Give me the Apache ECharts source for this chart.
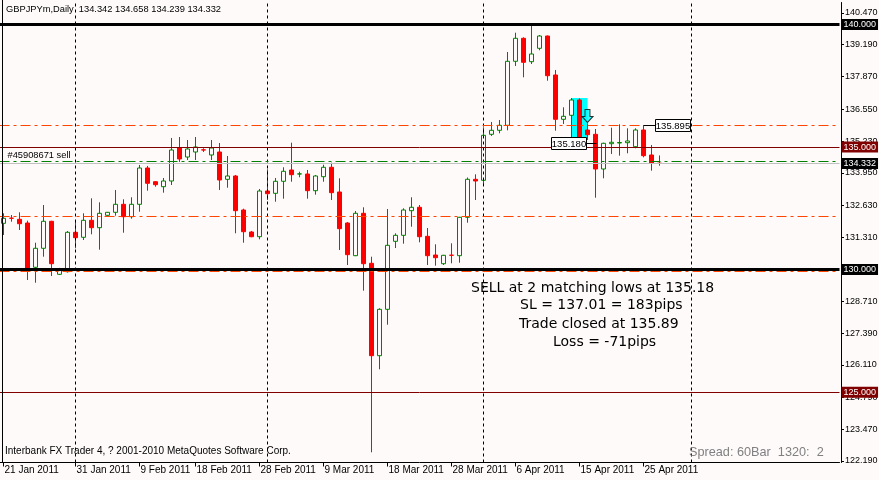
<!DOCTYPE html>
<html><head><meta charset="utf-8">
<script src="https://cdn.jsdelivr.net/npm/echarts@6/dist/echarts.min.js"></script>
<style>html,body{margin:0;padding:0;background:#FFFAFA}#c{width:879px;height:480px}</style>
</head><body><div id="c"></div>
<script>
// ---- data ----
const dates = ['Jan 21','Jan 23','Jan 24','Jan 25','Jan 26','Jan 27','Jan 28','Jan 30','Jan 31','Feb 1',
'Feb 2','Feb 3','Feb 4','Feb 6','Feb 7','Feb 8','Feb 9','Feb 10','Feb 11','Feb 13',
'Feb 14','Feb 15','Feb 16','Feb 17','Feb 18','Feb 20','Feb 21','Feb 22','Feb 23','Feb 24',
'Feb 25','Feb 27','Feb 28','Mar 1','Mar 2','Mar 3','Mar 4','Mar 6','Mar 7','Mar 8',
'Mar 9','Mar 10','Mar 11','Mar 13','Mar 14','Mar 15','Mar 16','Mar 17','Mar 18','Mar 20',
'Mar 21','Mar 22','Mar 23','Mar 24','Mar 25','Mar 27','Mar 28','Mar 29','Mar 30','Mar 31',
'Apr 1','Apr 3','Apr 4','Apr 5','Apr 6','Apr 7','Apr 8','Apr 10','Apr 11','Apr 12',
'Apr 13','Apr 14','Apr 15','Apr 17','Apr 18','Apr 19','Apr 20','Apr 21','Apr 22','Apr 24',
'Apr 25','Apr 26','Apr 27'];
const futureSlots = ['Apr 28','Apr 29','May 1','May 2','May 3','May 4','May 5','May 6','May 8','May 9',
'May 10','May 11','May 12','May 13','May 15','May 16','May 17','May 18','May 19','May 20','May 22','May 23'];

const opens = [131.889,132.100,132.052,131.901,130.094,130.869,131.971,129.808,129.914,131.522,
131.318,132.011,131.709,132.215,132.338,132.664,132.158,132.664,134.145,133.586,
133.382,133.615,134.961,134.594,134.798,134.885,134.676,134.798,133.684,133.819,
132.432,131.534,131.342,133.207,133.113,133.603,134.064,133.900,133.900,133.219,
133.790,134.174,133.166,131.901,130.567,132.297,130.257,126.487,128.380,131.154,
131.399,132.403,132.542,131.358,130.595,130.240,130.588,130.567,132.134,133.684,
133.644,135.520,135.684,135.887,138.499,139.437,138.483,139.030,139.531,137.940,
136.132,136.296,136.920,135.696,135.520,134.104,135.137,135.165,135.178,135.014,
135.696,134.676,134.342];
const closes = [132.093,132.093,131.872,130.053,130.869,131.971,130.240,130.012,131.522,131.301,
132.011,131.709,132.297,132.338,132.664,132.158,132.664,134.145,133.521,133.464,
133.615,134.880,134.513,134.921,135.002,134.880,134.961,133.656,133.819,132.403,
131.546,131.342,133.207,133.097,133.603,134.011,133.872,133.905,133.219,133.819,
134.174,133.138,131.669,130.608,132.297,130.240,126.487,128.380,130.991,131.399,
132.432,132.542,131.342,130.567,130.485,130.583,130.583,132.134,133.684,133.615,
135.480,135.684,135.887,138.499,139.437,138.458,138.797,139.531,137.911,136.132,
136.255,136.920,135.329,135.504,134.104,135.153,135.194,135.185,135.247,135.696,
134.647,134.337,134.332];
const lows = [131.411,131.954,131.615,129.575,129.465,130.526,129.739,129.780,129.880,130.869,
131.207,131.440,130.812,132.190,132.199,131.505,132.077,132.362,133.219,133.382,
133.138,133.450,134.390,134.470,134.470,134.800,134.470,133.248,133.341,131.481,
131.097,131.320,131.236,132.840,132.770,132.893,133.586,133.766,132.893,133.056,
133.586,132.840,130.799,130.187,130.550,129.139,122.545,125.932,127.751,130.881,
131.057,131.750,131.114,130.187,130.159,130.187,130.257,130.281,131.913,132.840,
133.492,135.451,135.561,135.684,138.307,137.846,138.389,138.948,137.707,135.667,
135.941,135.341,135.250,135.288,132.933,133.725,134.717,134.647,134.745,134.949,
134.582,134.035,134.239];
const highs = [132.297,132.228,132.338,131.995,131.097,132.636,131.990,130.070,131.575,131.995,
132.297,132.909,132.746,132.350,133.248,132.868,132.950,134.270,134.230,133.610,
133.737,135.369,135.410,135.288,135.410,134.950,135.288,135.165,134.635,133.860,
132.485,131.575,133.288,134.092,133.737,134.174,135.178,133.994,134.064,133.860,
134.280,134.362,133.725,131.940,132.391,132.542,130.526,128.421,132.472,131.480,
132.501,132.950,132.636,131.697,131.032,130.600,131.073,132.150,133.758,133.888,
135.806,136.022,136.104,138.878,139.666,139.478,139.939,139.572,139.550,138.144,
136.622,137.001,136.989,135.969,135.737,135.178,135.790,135.928,135.765,135.765,
135.895,135.084,134.658];

const priceTicks = [140.470,139.190,137.870,136.550,135.230,133.950,132.630,131.310,129.990,128.710,127.390,126.110,124.790,123.470,122.190];
const dateTickIndex = [0,9,17,24,32,40,48,56,64,72,80];
const dateTickLabels = ['21 Jan 2011','31 Jan 2011','9 Feb 2011','18 Feb 2011','28 Feb 2011','9 Mar 2011','18 Mar 2011','28 Mar 2011','6 Apr 2011','15 Apr 2011','25 Apr 2011'];
const monthSeparators = [9,33,60,86];

const blackLevels = [140.000,130.000];
const redLevels = [135.000,125.000];
const dashDotLevels = [135.895,132.190,129.940];
const orderLevel = 134.420;
const orderText = '#45908671 sell';
const bidLevel = 134.332;

const highlightBox = {from:71,to:73,low:135.357,high:137.000};
const arrowPoint = [73,136.27];
const priceTags = [[74,135.180,-1],[80,135.895,1]];
const priceTagTexts = ['135.180','135.895'];

const header = 'GBPJPYm,Daily  134.342 134.658 134.239 134.332';
const notes = ['SELL at 2 matching lows at 135.18','SL = 137.01 = 183pips','Trade closed at 135.89','Loss = -71pips'];
const footerLeft = 'Interbank FX Trader 4, ? 2001-2010 MetaQuotes Software Corp.';
const footerRight = 'Spread: 60Bar  1320:  2';

// ---- chart ----
const categories = dates.concat(futureSlots);
const candles = opens.map((o,i)=>[o,closes[i],lows[i],highs[i]]);
const tickMap = {}; dateTickIndex.forEach((k,i)=>tickMap[k]=dateTickLabels[i]);
const FONT = '"Liberation Sans", Arial, sans-serif';
const NOTEFONT = '"DejaVu Sans", Verdana, sans-serif';

function axisBox(v,bg){
  return {show:true,position:'end',distance:2,formatter:v.toFixed(3),color:'#fff',backgroundColor:bg,
    padding:[1,2,0,2],fontSize:9,fontFamily:FONT,lineHeight:10};
}
const levelLines = [];
blackLevels.forEach(v=>levelLines.push({yAxis:v,lineStyle:{color:'#000',width:3,type:'solid'},label:axisBox(v,'#000')}));
redLevels.forEach(v=>levelLines.push({yAxis:v,lineStyle:{color:'#800000',width:1,type:'solid'},label:axisBox(v,'#800000')}));
dashDotLevels.forEach(v=>levelLines.push({yAxis:v,lineStyle:{color:'#FF4500',width:1,type:[10,4,3,4]},label:{show:false}}));
levelLines.push({yAxis:orderLevel,lineStyle:{color:'#008000',width:1,type:[10,4,3,4]},
  label:{show:true,position:'insideStartTop',distance:[8,1],formatter:orderText,color:'#000',fontSize:9.3,fontFamily:FONT}});
levelLines.push({yAxis:bidLevel,lineStyle:{color:'#C0C0C0',width:1,type:'solid'},label:axisBox(bidLevel,'#000')});

const chart = echarts.init(document.getElementById('c'),null,{renderer:'canvas'});
chart.setOption({
  backgroundColor:'#FFFAFA',
  animation:false,
  grid:{left:-0.5,top:2.5,width:840,bottom:17.5,containLabel:false,outerBoundsMode:'none'},
  xAxis:{type:'category',data:categories,boundaryGap:true,
    axisLine:{show:true,onZero:false,lineStyle:{color:'#000',width:1}},
    axisTick:{show:true,alignWithLabel:true,length:4,interval:(i)=>tickMap[i]!==undefined,lineStyle:{color:'#000'}},
    axisLabel:{show:true,interval:(i)=>tickMap[i]!==undefined,formatter:(v,i)=>tickMap[i]||'',align:'left',margin:3,
      color:'#000',fontSize:10,fontFamily:FONT,padding:[0,0,0,1],hideOverlap:false},
    splitLine:{show:false}},
  yAxis:{type:'value',position:'right',offset:1.5,min:122.129,max:140.898,scale:true,
    axisLine:{show:true,lineStyle:{color:'#000'}},
    axisTick:{show:true,length:3,customValues:priceTicks,lineStyle:{color:'#000'}},
    axisLabel:{show:true,customValues:priceTicks,formatter:(v)=>v.toFixed(3),margin:4,color:'#000',fontSize:9,fontFamily:FONT,hideOverlap:false},
    splitLine:{show:false}},
  series:[
    {type:'line',data:[],z:1,silent:true,
      markLine:{symbol:'none',silent:true,animation:false,
        data:monthSeparators.map(k=>({xAxis:k})),
        lineStyle:{color:'#000',width:1,type:[3,3]},label:{show:false}},
      markArea:{silent:true,itemStyle:{color:'#00FFFF',opacity:1},
        data:[[{xAxis:highlightBox.from,yAxis:highlightBox.high},{xAxis:highlightBox.to,yAxis:highlightBox.low}]]}},
    {type:'candlestick',data:candles,z:3,barWidth:4,
      itemStyle:{color:'#FFFAFA',color0:'#FF0000',borderColor:'#008000',borderColor0:'#FF0000',borderWidth:1}},
    {type:'line',data:[],z:5,silent:true,
      markLine:{symbol:'none',silent:true,animation:false,data:levelLines}},
    {type:'scatter',z:6,data:[arrowPoint],symbol:'path://M3,0 L8,0 L8,7 L11,7 L5.5,13 L0,7 L3,7 Z',symbolSize:[11,13],
      itemStyle:{color:'#00FFFF',borderColor:'#000',borderWidth:1}},
    {type:'custom',z:7,data:priceTags,
      renderItem:(params,api)=>{
        const pt=api.coord([api.value(0),api.value(1)]);
        const side=api.value(2), gap=side<0?10:11, w=35, h=12;
        const x0 = side<0 ? Math.round(pt[0]-gap-w)+0.5 : Math.round(pt[0]+gap)+0.5;
        const yc = Math.round(pt[1])+0.5;
        const lx1 = side<0 ? x0+w : pt[0], lx2 = side<0 ? pt[0]+1 : x0;
        return {type:'group',children:[
          {type:'line',shape:{x1:lx1,y1:yc,x2:lx2,y2:yc},style:{stroke:'#000',lineWidth:1}},
          {type:'rect',shape:{x:x0,y:yc-6,width:w,height:h},style:{fill:'#fff',stroke:'#000',lineWidth:1}},
          {type:'text',style:{text:priceTagTexts[params.dataIndex],x:x0+w/2,y:yc+0.5,align:'center',verticalAlign:'middle',
            font:'9.5px '+FONT,fill:'#000'}}]};
      }}
  ],
  graphic:[
    {type:'line',shape:{x1:2.5,y1:0,x2:2.5,y2:463},style:{stroke:'#000',lineWidth:1},z:100},
    {type:'text',left:6,top:5,style:{text:header,font:'9.3px '+FONT,fill:'#000'},z:100},
    {type:'text',left:471,top:281,style:{text:notes[0],font:'14px '+NOTEFONT,fill:'#000'},z:100},
    {type:'text',left:520,top:298,style:{text:notes[1],font:'14px '+NOTEFONT,fill:'#000'},z:100},
    {type:'text',left:519,top:317,style:{text:notes[2],font:'14px '+NOTEFONT,fill:'#000'},z:100},
    {type:'text',left:553,top:335,style:{text:notes[3],font:'14px '+NOTEFONT,fill:'#000'},z:100},
    {type:'text',left:5,top:446,style:{text:footerLeft,font:'10px '+FONT,fill:'#000'},z:100},
    {type:'text',left:689,top:446,style:{text:footerRight,font:'12.7px '+FONT,fill:'#808080'},z:100}
  ]
});
</script></body></html>
